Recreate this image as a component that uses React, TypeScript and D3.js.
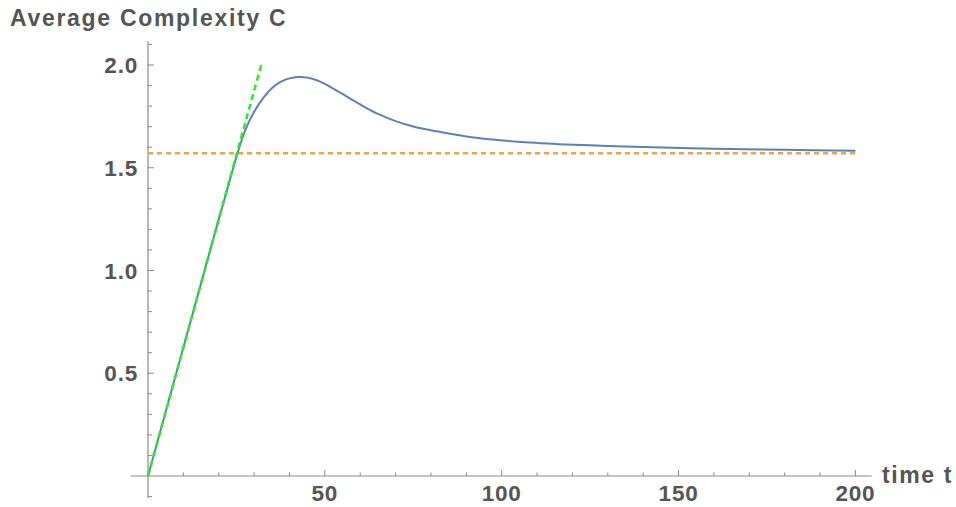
import React from "react";
import * as d3 from "d3";

// ---- data ----
const timeValues = [0, 5, 10, 15, 20, 22.5, 25, 27.5, 30, 32.5, 35, 37.5, 40, 42.5, 45, 47.5, 50, 52.5, 55, 60, 65, 70, 75, 80, 85, 95, 110, 125, 140, 160, 180, 200];
const complexityValues = [0, 0.3125, 0.625, 0.9375, 1.25, 1.4, 1.553, 1.683, 1.772, 1.838, 1.887, 1.918, 1.935, 1.942, 1.939, 1.927, 1.908, 1.884, 1.859, 1.808, 1.762, 1.727, 1.701, 1.682, 1.667, 1.641, 1.621, 1.609, 1.601, 1.593, 1.587, 1.583];
const asymptote = Math.PI / 2;
const asymptoteRange = [0, 200];
const slopeLineT = [0, 32];
const slope = 1 / 16;
const xTickLabels = ["50", "100", "150", "200"];
const xTickValues = [50, 100, 150, 200];
const yTickLabels = ["0.5", "1.0", "1.5", "2.0"];
const yTickValues = [0.5, 1.0, 1.5, 2.0];
const title = "Average Complexity C";
const xLabel = "time t";

const W = 956, H = 507;
const FONT = "'Liberation Sans', Arial, Helvetica, sans-serif";
const TEXT = "#555555";
const AXIS = "#8a8a8a";

export default function App() {
  const x = d3.scaleLinear().domain([0, 200]).range([148, 855.4]);
  const y = d3.scaleLinear().domain([0, 2]).range([476, 65]);

  const xMinor = d3.range(10, 201, 10).filter((v) => v % 50 !== 0);
  const yMinor = d3.range(-1, 22, 1).map((v) => v / 10).filter((v) => Math.round(v * 10) % 5 !== 0);

  const pts: [number, number][] = timeValues.map((t, i) => [t, complexityValues[i]]);
  const line = d3.line<[number, number]>().x((d) => x(d[0])).y((d) => y(d[1])).curve(d3.curveCatmullRom.alpha(0.5));

  return (
    <svg width={W} height={H} style={{ position: "absolute", left: 0, top: 0, background: "#fff" }}>
      {/* axes */}
      <line x1={x(-4.8)} x2={x(204.6)} y1={y(0)} y2={y(0)} stroke={AXIS} strokeWidth={1.2} />
      <line x1={x(0)} x2={x(0)} y1={y(-0.107)} y2={y(2.115)} stroke={AXIS} strokeWidth={1.2} />
      {xMinor.map((v) => (
        <line key={"xm" + v} x1={x(v)} x2={x(v)} y1={y(0)} y2={y(0) - 3.5} stroke={AXIS} strokeWidth={1} />
      ))}
      {xTickValues.map((v) => (
        <line key={"xM" + v} x1={x(v)} x2={x(v)} y1={y(0)} y2={y(0) - 6} stroke={AXIS} strokeWidth={1} />
      ))}
      {yMinor.map((v) => (
        <line key={"ym" + v} x1={x(0)} x2={x(0) + 4} y1={y(v)} y2={y(v)} stroke={AXIS} strokeWidth={1} />
      ))}
      {yTickValues.map((v) => (
        <line key={"yM" + v} x1={x(0)} x2={x(0) + 6} y1={y(v)} y2={y(v)} stroke={AXIS} strokeWidth={1} />
      ))}
      {xTickValues.map((v, i) => (
        <text key={"xl" + v} x={x(v)} y={y(0) + 24.5} textAnchor="middle" fontFamily={FONT} fontWeight="bold" fontSize={22.5} letterSpacing={0.8} fill={TEXT}>
          {xTickLabels[i]}
        </text>
      ))}
      {yTickValues.map((v, i) => (
        <text key={"yl" + v} x={138} y={y(v) + 8} textAnchor="end" fontFamily={FONT} fontWeight="bold" fontSize={22.5} letterSpacing={0.8} fill={TEXT}>
          {yTickLabels[i]}
        </text>
      ))}
      <text x={882} y={483} fontFamily={FONT} fontWeight="bold" fontSize={23} letterSpacing={1.6} fill={TEXT}>{xLabel}</text>
      <text x={10} y={26} fontFamily={FONT} fontWeight="bold" fontSize={23} letterSpacing={1.7} fill={TEXT}>{title}</text>

      {/* asymptote */}
      <line x1={x(asymptoteRange[0])} x2={x(asymptoteRange[1])} y1={y(asymptote)} y2={y(asymptote)} stroke="#f6a03e" strokeWidth={2.5} strokeDasharray="5,4" />
      {/* main curve */}
      <path d={line(pts) || ""} fill="none" stroke="#5e81b5" strokeWidth={2} />
      {/* initial slope */}
      <line x1={x(slopeLineT[0])} y1={y(slopeLineT[0] * slope)} x2={x(slopeLineT[1])} y2={y(slopeLineT[1] * slope)} stroke="#22ee22" strokeWidth={2.5} strokeDasharray="6,4" />
    </svg>
  );
}
